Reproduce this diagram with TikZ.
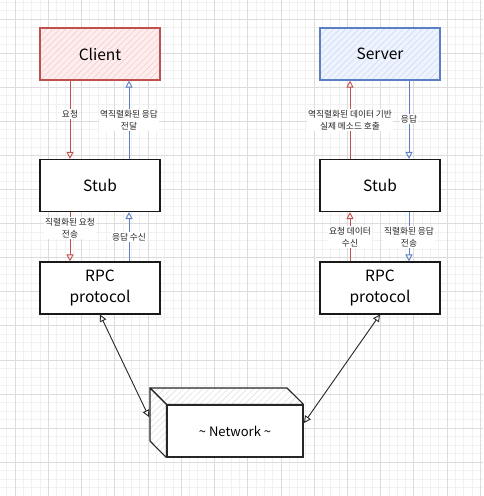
\documentclass[tikz,border=0pt]{standalone}
\usepackage{fontspec}
\setmainfont{Noto Sans CJK KR}
\usetikzlibrary{arrows.meta,patterns.meta}
\definecolor{redline}{HTML}{C0504D}
\definecolor{redfill}{HTML}{FFEDED}
\definecolor{blueline}{HTML}{5B7FC4}
\definecolor{bluefill}{HTML}{EDF3FF}
\definecolor{gridminor}{HTML}{F1F1F1}
\definecolor{gridmajor}{HTML}{DCDCDC}
\begin{document}
\begin{tikzpicture}[x=1pt,y=-1pt,
  box/.style={draw=black!90, line width=1.1pt, minimum width=120pt, minimum height=52pt,
    inner sep=0pt, font=\fontsize{15.5}{21}\selectfont, align=center, fill=white},
  clientbox/.style={box, draw=redline, fill=none, preaction={fill=redfill},
    preaction={pattern={Lines[angle=45,distance=4.5pt,line width=0.5pt]}, pattern color=redline!30}},
  serverbox/.style={box, draw=blueline, fill=none, preaction={fill=bluefill},
    preaction={pattern={Lines[angle=45,distance=4.5pt,line width=0.5pt]}, pattern color=blueline!30}},
  lbl/.style={fill=white, font=\fontsize{8.7}{12}\selectfont, align=center, inner sep=1pt, text=black!85},
  redarrow/.style={draw=redline, line width=0.9pt, -{Triangle[open,length=7pt,width=7pt]}},
  bluearrow/.style={draw=blueline, line width=0.9pt, -{Triangle[open,length=7pt,width=7pt]}},
  netarrow/.style={draw=black!85, line width=0.9pt, {Triangle[open,length=7pt,width=7pt]}-{Triangle[open,length=7pt,width=7pt]}},
  netface/.style={draw=black!85, line width=1.1pt, line join=round, preaction={fill=white},
    preaction={pattern={Lines[angle=45,distance=4.5pt,line width=0.4pt]}, pattern color=black!15}},
  minorline/.style={draw=gridminor, line width=0.6pt},
  majorline/.style={draw=gridmajor, line width=0.6pt}
]
\useasboundingbox (0,0) rectangle (483,496);
\fill[white] (0,0) rectangle (483,496);
% grid
\foreach \i in {-4,...,60} {
  \draw[minorline] ({15+\i*33.23/4},0) -- ({15+\i*33.23/4},496);
  \draw[minorline] (0,{19+\i*34.08/4}) -- (483,{19+\i*34.08/4});
}
\foreach \i in {-1,...,15} {
  \draw[majorline] ({15+\i*33.23},0) -- ({15+\i*33.23},496);
  \draw[majorline] (0,{19+\i*34.08}) -- (483,{19+\i*34.08});
}

% boxes
\node[clientbox] (client) at (100,54) {Client};
\node[serverbox] (server) at (380,54) {Server};
\node[box] (stubL) at (100,185.5) {Stub};
\node[box] (stubR) at (380,185.5) {Stub};
\node[box] (rpcL) at (100,288) {RPC\\protocol};
\node[box] (rpcR) at (380,288) {RPC\\protocol};

% network cuboid
\node[box, minimum width=136pt, minimum height=52pt, draw=black!85] (net) at (235,431) {\fontsize{13}{16}\selectfont \textasciitilde{} Network \textasciitilde};
\coordinate (backTL) at (150,388);
\coordinate (backTR) at (287,388);
\coordinate (backBL) at (150,441);
\draw[netface] (backTL) -- (backTR) -- (net.north east) -- (net.north west) -- cycle;
\draw[netface] (backTL) -- (net.north west) -- (net.south west) -- (backBL) -- cycle;
\coordinate (netW) at (149,417);
\coordinate (netE) at (304,423);

% left side arrows
\draw[redarrow] ([xshift=-30pt]client.south) -- ([xshift=-30pt]stubL.north)
  node[lbl, pos=0.43] {요청};
\draw[bluearrow] ([xshift=29pt]stubL.north) -- ([xshift=29pt]client.south)
  node[lbl, pos=0.5] {역직렬화된 응답\\전달};
\draw[redarrow] ([xshift=-30pt]stubL.south) -- ([xshift=-30pt]rpcL.north)
  node[lbl, pos=0.33] {직렬화된 요청\\전송};
\draw[bluearrow] ([xshift=29pt]rpcL.north) -- ([xshift=29pt]stubL.south)
  node[lbl, pos=0.5] {응답 수신};

% right side arrows
\draw[redarrow] ([xshift=-30pt]stubR.north) -- ([xshift=-30pt]server.south)
  node[lbl, pos=0.5] {역직렬화된 데이터 기반\\실제 메소드 호출};
\draw[bluearrow] ([xshift=29pt]server.south) -- ([xshift=29pt]stubR.north)
  node[lbl, pos=0.49] {응답};
\draw[redarrow] ([xshift=-30pt]rpcR.north) -- ([xshift=-30pt]stubR.south)
  node[lbl, pos=0.5] {요청 데이터\\수신};
\draw[bluearrow] ([xshift=29pt]stubR.south) -- ([xshift=29pt]rpcR.north)
  node[lbl, pos=0.5] {직렬화된 응답\\전송};

% network arrows
\draw[netarrow] (rpcL.south) -- (netW);
\draw[netarrow] (rpcR.south) -- (netE);
\end{tikzpicture}
\end{document}
